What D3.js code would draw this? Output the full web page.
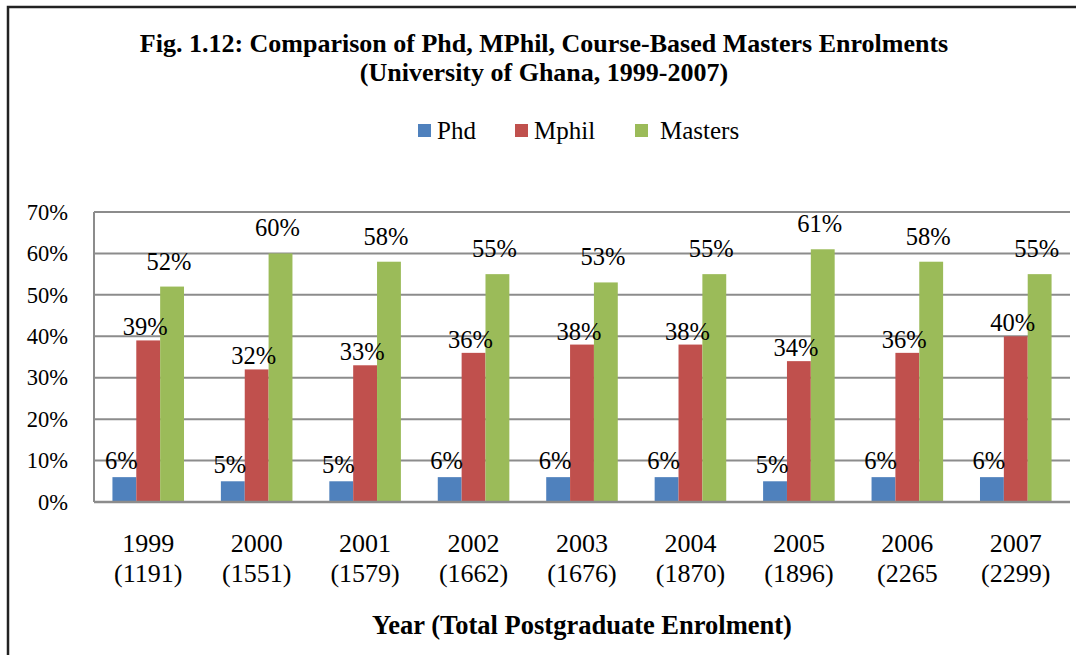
<!DOCTYPE html>
<html>
<head>
<meta charset="utf-8">
<script src="https://cdn.jsdelivr.net/npm/d3@7"></script>
<style>
	body { margin: 0; background: #fff; }
	svg { display: block; }
	svg text { font-family: "Liberation Serif", "Times New Roman", serif !important; fill: #000; }
</style>
</head>
<body>
<svg id="chart" width="1076" height="655"></svg>
<script>
var years = ["1999", "2000", "2001", "2002", "2003", "2004", "2005", "2006", "2007"];
var totals = ["(1191)", "(1551)", "(1579)", "(1662)", "(1676)", "(1870)", "(1896)", "(2265", "(2299)"];
var seriesNames = ["Phd", "Mphil", "Masters"];
var phd = [6, 5, 5, 6, 6, 6, 5, 6, 6];
var mphil = [39, 32, 33, 36, 38, 38, 34, 36, 40];
var masters = [52, 60, 58, 55, 53, 55, 61, 58, 55];
var yTicks = [0, 10, 20, 30, 40, 50, 60, 70];

var colors = ["#4F81BD", "#C0504D", "#9BBB59"];
var labelLift = [8, 5, 17];

var svg = d3.select("#chart");
var width = 1076, height = 655;
var margin = {top: 212, right: 6, bottom: 153, left: 94};

// outer frame (top and left edges only visible)
svg.append("path")
	.attr("d", "M8,660 V7 H1076")
	.attr("fill", "none")
	.attr("stroke", "#222")
	.attr("stroke-width", 2.5);

var xScale = d3.scaleBand()
	.domain(years)
	.range([margin.left, width - margin.right])
	.paddingInner(0.34)
	.paddingOuter(0.17);

var xSub = d3.scaleBand()
	.domain(seriesNames)
	.range([0, xScale.bandwidth()]);

var yScale = d3.scaleLinear()
	.domain([0, 70])
	.range([height - margin.bottom, margin.top]);

// gridlines
svg.append("g")
	.selectAll("line")
	.data(yTicks)
	.enter().append("line")
	.attr("x1", margin.left)
	.attr("x2", width - margin.right)
	.attr("y1", function(d){ return yScale(d); })
	.attr("y2", function(d){ return yScale(d); })
	.attr("stroke", "#8c8c8c")
	.attr("stroke-width", 2);

svg.append("line")
	.attr("x1", margin.left).attr("x2", margin.left)
	.attr("y1", yScale(70)).attr("y2", yScale(0))
	.attr("stroke", "#8c8c8c")
	.attr("stroke-width", 2);

// y axis labels
var yAxis = d3.axisLeft(yScale)
	.tickValues(yTicks)
	.tickSize(0)
	.tickPadding(26)
	.tickFormat(function(d){ return d + "%"; });

svg.append("g")
	.attr("transform", "translate(" + margin.left + ",0)")
	.call(yAxis)
	.call(function(g){
		g.select(".domain").remove();
		g.selectAll("text")
			.attr("font-size", 22.5);
	});

// bars
var rows = years.map(function(y, i){
	return {year: y, vals: [phd[i], mphil[i], masters[i]]};
});

var groups = svg.append("g").selectAll("g")
	.data(rows)
	.enter().append("g")
	.attr("transform", function(d){ return "translate(" + xScale(d.year) + ",0)"; });

groups.selectAll("rect")
	.data(function(d){ return d.vals.map(function(v, k){ return {k: k, v: v}; }); })
	.enter().append("rect")
	.attr("x", function(d){ return xSub(seriesNames[d.k]); })
	.attr("y", function(d){ return yScale(d.v); })
	.attr("width", xSub.bandwidth())
	.attr("height", function(d){ return yScale(0) - yScale(d.v); })
	.attr("fill", function(d){ return colors[d.k]; });

groups.selectAll("text")
	.data(function(d){ return d.vals.map(function(v, k){ return {k: k, v: v}; }); })
	.enter().append("text")
	.attr("x", function(d){ return xSub(seriesNames[d.k]) + xSub.bandwidth() / 2 - 3; })
	.attr("y", function(d){ return yScale(d.v) - labelLift[d.k]; })
	.attr("text-anchor", "middle")
	.attr("font-size", 24.5)
	.text(function(d){ return d.v + "%"; });

// x axis baseline
svg.append("line")
	.attr("x1", margin.left).attr("x2", width - margin.right)
	.attr("y1", yScale(0)).attr("y2", yScale(0))
	.attr("stroke", "#8c8c8c")
	.attr("stroke-width", 2.5);

// x labels
var xLab = svg.append("g").selectAll("text")
	.data(years)
	.enter().append("text")
	.attr("x", function(d){ return xScale(d) + xScale.bandwidth() / 2; })
	.attr("y", 552)
	.attr("text-anchor", "middle")
	.attr("font-size", 26);
xLab.append("tspan")
	.attr("x", function(d){ return xScale(d) + xScale.bandwidth() / 2; })
	.text(function(d){ return d; });
xLab.append("tspan")
	.attr("x", function(d){ return xScale(d) + xScale.bandwidth() / 2; })
	.attr("dy", 30)
	.text(function(d, i){ return totals[i]; });

// axis title
svg.append("text")
	.attr("x", (margin.left + width - margin.right) / 2)
	.attr("y", 634)
	.attr("text-anchor", "middle")
	.attr("font-size", 26.5)
	.attr("font-weight", "bold")
	.text("Year (Total Postgraduate Enrolment)");

// title
svg.append("text")
	.attr("x", 544)
	.attr("y", 52)
	.attr("text-anchor", "middle")
	.attr("font-size", 26)
	.attr("font-weight", "bold")
	.text("Fig. 1.12: Comparison of Phd, MPhil, Course-Based Masters Enrolments");
svg.append("text")
	.attr("x", 544)
	.attr("y", 81)
	.attr("text-anchor", "middle")
	.attr("font-size", 26)
	.attr("font-weight", "bold")
	.text("(University of Ghana, 1999-2007)");

// legend
var legendX = [418, 515, 635];
var legend = svg.append("g").selectAll("g")
	.data(seriesNames)
	.enter().append("g")
	.attr("transform", function(d, i){ return "translate(" + legendX[i] + ",131)"; });
legend.append("rect")
	.attr("x", 0).attr("y", -7)
	.attr("width", 13).attr("height", 13)
	.attr("fill", function(d, i){ return colors[i]; });
legend.append("text")
	.attr("x", function(d, i){ return i === 2 ? 25 : 19; })
	.attr("y", 8)
	.attr("font-size", 25)
	.text(function(d){ return d; });
</script>
</body>
</html>
